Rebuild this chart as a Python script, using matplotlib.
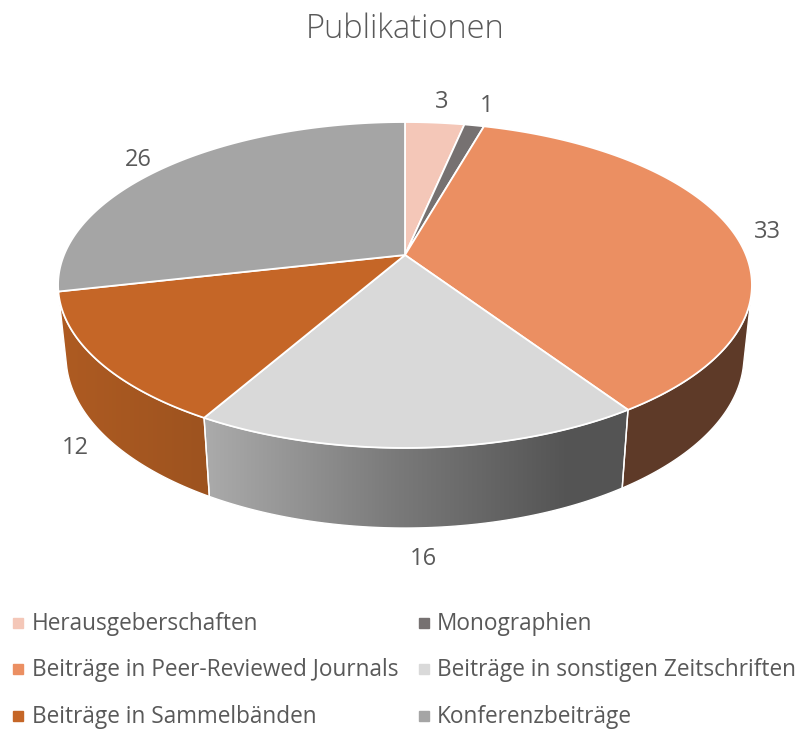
import numpy as np
import matplotlib
matplotlib.use('Agg')
import matplotlib.pyplot as plt
from matplotlib.patches import Polygon
from matplotlib.colors import to_rgb

# ---------------- data ----------------
title = "Publikationen"
categories = ["Herausgeberschaften", "Monographien",
              "Beiträge in Peer-Reviewed Journals",
              "Beiträge in sonstigen Zeitschriften",
              "Beiträge in Sammelbänden", "Konferenzbeiträge"]
values = [3, 1, 33, 16, 12, 26]
top_colors = ['#F4C7B8', '#767171', '#EB8F62', '#D9D9D9', '#C56627', '#A5A5A5']
# wall shading (left -> right colour stops)
wall_stops = [
    [(0, '#C9A093'), (1, '#B08A7E')],
    [(0, '#5A5656'), (1, '#4A4747')],
    [(0, '#5E3A28'), (1, '#5F3B29')],
    [(0, '#ABABAB'), (0.45, '#7A7A7A'), (0.85, '#555555'), (1, '#545454')],
    [(0, '#AE5B22'), (1, '#9D531F')],
    [(0, '#848484'), (1, '#6E6E6E')],
]

# ---------------- 3D projection setup ----------------
W, H = 804, 733
CX, CY = 405, 255
SA, CA = 0.4617, 0.887   # sin / cos of elevation
DIST = 4.821
FOC = 1644
THICK = 0.2365


def proj(u, v, z):
    depth = DIST - v * CA - z * SA
    return CX + FOC * u / depth, CY + FOC * (v * SA - z * CA) / depth


def ring(t1, t2, r=1.0, z=0.0, n=200):
    th = np.radians(np.linspace(t1, t2, max(2, n)))
    u = r * np.sin(th)
    v = -r * np.cos(th)
    X, Y = proj(u, v, z)
    return np.column_stack([X, Y])


fig = plt.figure(figsize=(W / 100, H / 100), dpi=100)
ax = fig.add_axes([0, 0, 1, 1])
ax.set_xlim(0, W)
ax.set_ylim(H, 0)
ax.axis('off')

total = sum(values)
angles = np.concatenate([[0], np.cumsum(values) / total * 360.0])

# visible wall range (outer normal facing camera)
vmin = 1.0 / (DIST * CA)
wa = np.degrees(np.arccos(-vmin))
wb = 360 - wa

# --- walls ---
for i in range(len(values)):
    a, b = max(angles[i], wa), min(angles[i + 1], wb)
    if b <= a:
        continue
    n = int((b - a) * 3) + 2
    topa = ring(a, b, z=0.0, n=n)
    bot = ring(a, b, z=-THICK, n=n)[::-1]
    pts = np.vstack([topa, bot])
    poly = Polygon(pts, closed=True, facecolor='none', edgecolor='none', zorder=2)
    ax.add_patch(poly)
    x0, x1 = pts[:, 0].min(), pts[:, 0].max()
    y0, y1 = pts[:, 1].min(), pts[:, 1].max()
    stops = wall_stops[i]
    fr = np.linspace(0, 1, 256)
    pos = [s[0] for s in stops]
    cols = np.array([to_rgb(s[1]) for s in stops])
    grad = np.stack([np.interp(fr, pos, cols[:, k]) for k in range(3)], axis=-1)
    img = np.stack([grad, grad], axis=0)
    im = ax.imshow(img, extent=(x0, x1, y1, y0), aspect='auto',
                   interpolation='bilinear', zorder=2)
    im.set_clip_path(poly)
    ax.add_patch(Polygon(pts, closed=True, facecolor='none', edgecolor='white',
                         lw=1.0, zorder=3))

# --- top faces ---
for i in range(len(values)):
    n = int((angles[i + 1] - angles[i]) * 3) + 2
    arc = ring(angles[i], angles[i + 1], z=0.0, n=n)
    cpt = np.array([proj(0.0, 0.0, 0.0)])
    pts = np.vstack([cpt, arc])
    ax.add_patch(Polygon(pts, closed=True, facecolor=top_colors[i],
                         edgecolor='white', lw=1.3, joinstyle='round', zorder=4))

# --- data labels (outside end, screen-space offset from rim) ---
txt_col = '#595959'
font = 'Open Sans'
top_c = np.array([CX, (proj(0, -1, 0)[1] + proj(0, 1, 0)[1]) / 2])
bot_c = np.array([CX, (proj(0, -1, -THICK)[1] + proj(0, 1, -THICK)[1]) / 2])
for i, val in enumerate(values):
    mid = (angles[i] + angles[i + 1]) / 2
    th = np.radians(mid)
    u, v = np.sin(th), -np.cos(th)
    front = v > 0.3
    z = -THICK if front else 0.0
    rim = np.array(proj(u, v, z))
    c = bot_c if front else top_c
    nvec = rim - c
    nvec = nvec / np.hypot(*nvec)
    hw = 6.5 * len(str(val))
    X = rim[0] + nvec[0] * (20 + hw) + 2
    Y = rim[1] + nvec[1] * (17 + 9) + 5
    ax.text(X, Y, str(val), ha='center', va='center', fontsize=17,
            color=txt_col, family=font, zorder=6)

# --- title ---
ax.text(405, 29, title, ha='center', va='center', fontsize=23.5,
        color=txt_col, family=font, fontweight='light', zorder=6)

# --- legend (two columns, row-wise order) ---
leg_x_marker = [18, 424]
leg_x_text = [32, 437]
leg_y = [624, 670, 717]
for i, cat in enumerate(categories):
    col = i % 2
    row = i // 2
    ax.plot([leg_x_marker[col]], [leg_y[row] - 1], marker='s', markersize=7,
            color=top_colors[i], linestyle='none', zorder=6)
    ax.text(leg_x_text[col], leg_y[row], cat, ha='left', va='center',
            fontsize=16.3, color=txt_col, family=font, zorder=6)

fig.savefig('out.png', dpi=100)
